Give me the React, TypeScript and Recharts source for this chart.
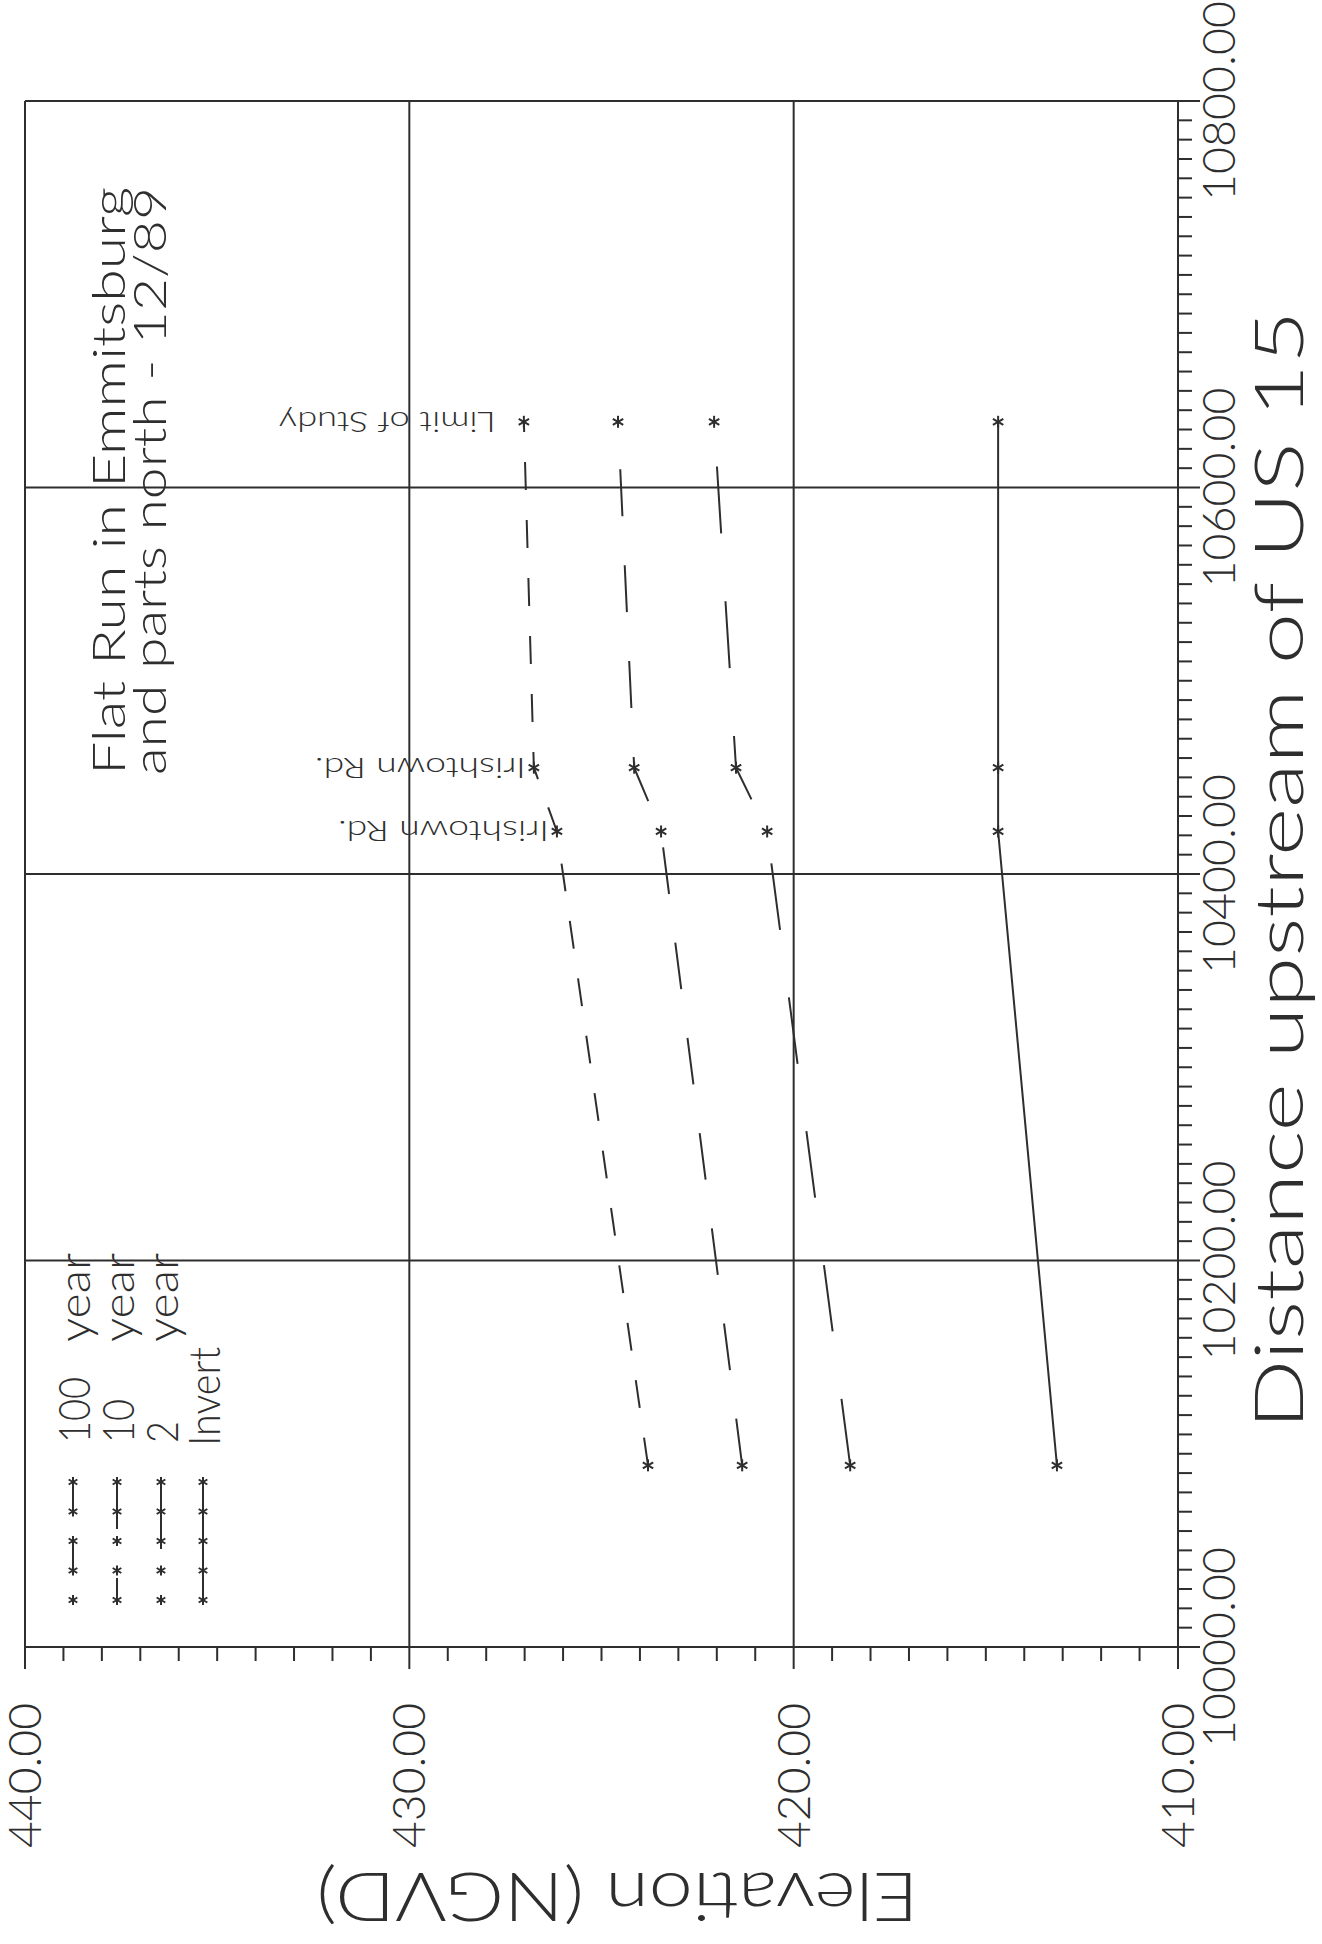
import {
  LineChart,
  Line,
  XAxis,
  YAxis,
  ReferenceLine,
  LabelList,
  Label,
} from "recharts";

// distance upstream of US 15 (ft)
const distances = [10094, 10422, 10455, 10634];

// water surface elevations (ft NGVD)
const year100 = [423.79, 426.16, 426.76, 427.02];
const year10 = [421.34, 423.45, 424.15, 424.57];
const year2 = [418.53, 420.69, 421.5, 422.07];
const invert = [413.15, 414.68, 414.68, 414.68];

const pointLabels = ["", "Irishtown Rd.", "Irishtown Rd.", "Limit of Study"];

const distanceMajor = [10000, 10200, 10400, 10600, 10800];
const elevationMajor = [410, 420, 430, 440];
const distanceMinor = Array.from({ length: 81 }, (_, i) => 10000 + i * 10);
const elevationMinor = Array.from({ length: 31 }, (_, i) => 410 + i);

const legendNums = ["100", "10", "2", ""];
const legendUnits = ["year", "year", "year", ""];

const rows = distances.map((d, i) => ({
  d,
  y100: year100[i],
  y10: year10[i],
  y2: year2[i],
  inv: invert[i],
  label: pointLabels[i],
}));

const INK = "#2e2e2e";
const FONT = "Lato, Roboto, 'DejaVu Sans', sans-serif";

const series = [
  { key: "y100", dash: "28 30" },
  { key: "y10", dash: "47 49" },
  { key: "y2", dash: "67 68" },
  { key: "inv", dash: undefined },
];

function Star({ cx, cy, r = 6 }: any) {
  const a = r * 0.866;
  const b = r * 0.5;
  return (
    <g stroke={INK} strokeWidth={2}>
      <line x1={cx - r} y1={cy} x2={cx + r} y2={cy} />
      <line x1={cx - b} y1={cy - a} x2={cx + b} y2={cy + a} />
      <line x1={cx - b} y1={cy + a} x2={cx + b} y2={cy - a} />
    </g>
  );
}

const renderDot = (props: any) => (
  <Star key={`dot-${props.dataKey}-${props.index}`} cx={props.cx} cy={props.cy} />
);

function DistanceTick({ x, y, payload }: any) {
  const v = payload.value;
  const major = distanceMajor.includes(v);
  return (
    <g>
      <line x1={x} x2={x} y1={y} y2={y + (major ? 22 : 14)} stroke={INK} strokeWidth={2} />
      {major && (
        <text
          x={x}
          y={y + 57}
          textAnchor="middle"
          fontSize={45}
          fontWeight={300}
          fontFamily={FONT}
          fill={INK}
          textLength={200}
          lengthAdjust="spacingAndGlyphs"
        >
          {v.toFixed(2)}
        </text>
      )}
    </g>
  );
}

function ElevationTick({ x, y, payload }: any) {
  const v = payload.value;
  const major = elevationMajor.includes(v);
  return (
    <g>
      <line x1={x} x2={x - (major ? 22 : 14)} y1={y} y2={y} stroke={INK} strokeWidth={2} />
      {major && (
        <text
          x={x - 56}
          y={y + 16}
          textAnchor="end"
          fontSize={45}
          fontWeight={300}
          fontFamily={FONT}
          fill={INK}
          textLength={145}
          lengthAdjust="spacingAndGlyphs"
        >
          {v.toFixed(2)}
        </text>
      )}
    </g>
  );
}

function PointLabel({ x, y, value }: any) {
  if (!value) return null;
  const gap = value.startsWith("Limit") ? 28 : 8;
  const tx = x + 10;
  const ty = y - gap;
  return (
    <text
      x={tx}
      y={ty}
      transform={`rotate(-90 ${tx} ${ty})`}
      fontSize={27}
      fontWeight={300}
      fontFamily={FONT}
      fill={INK}
      textLength={value.startsWith("Limit") ? 217 : 211}
      lengthAdjust="spacingAndGlyphs"
    >
      {value}
    </text>
  );
}

function DistanceTitle({ viewBox }: any) {
  const vb = viewBox || { x: 297, y: 1178, width: 1546, height: 100 };
  const cx = vb.x + vb.width / 2 + 4;
  const cy = vb.y + 125;
  return (
    <text
      x={cx}
      y={cy}
      textAnchor="middle"
      fontSize={67}
      fontWeight={300}
      fontFamily={FONT}
      fill={INK}
      textLength={1119}
      lengthAdjust="spacingAndGlyphs"
    >
      Distance upstream of US 15
    </text>
  );
}

function ElevationTitle({ viewBox }: any) {
  const vb = viewBox || { x: 97, y: 25, width: 200, height: 1153 };
  const tx = vb.x + vb.width - 226;
  const ty = vb.y + vb.height / 2 + 16;
  return (
    <text
      x={tx}
      y={ty}
      transform={`rotate(-90 ${tx} ${ty})`}
      textAnchor="middle"
      fontSize={67}
      fontWeight={300}
      fontFamily={FONT}
      fill={INK}
      textLength={602}
      lengthAdjust="spacingAndGlyphs"
    >
      Elevation (NGVD)
    </text>
  );
}

function Overlay() {
  const rowsY = [73, 117, 161, 203];
  const starX = [462, 432.5, 403, 373.5, 344];
  return (
    <svg
      width={1944}
      height={1322}
      style={{ position: "absolute", left: 0, top: 0, pointerEvents: "none" }}
    >
      <g fontFamily={FONT} fontWeight={300} fill={INK}>
        <text x={1169} y={125} fontSize={46} textLength={588} lengthAdjust="spacingAndGlyphs">
          Flat Run in Emmitsburg
        </text>
        <text x={1169} y={166} fontSize={46} textLength={588} lengthAdjust="spacingAndGlyphs">
          and parts north - 12/89
        </text>
      </g>
      {series.map((s, i) => (
        <g key={s.key}>
          <line
            x1={462}
            x2={344}
            y1={rowsY[i]}
            y2={rowsY[i]}
            stroke={INK}
            strokeWidth={2}
            strokeDasharray={s.dash}
          />
          {starX.map((sx) => (
            <Star key={sx} cx={sx} cy={rowsY[i]} r={5} />
          ))}
          {i < 3 ? (
            <g fontFamily={FONT} fontWeight={300} fill={INK} fontSize={44}>
              <text x={501} y={rowsY[i] + 17} textLength={legendNums[i].length * 22} lengthAdjust="spacingAndGlyphs">
                {legendNums[i]}
              </text>
              <text x={602} y={rowsY[i] + 17} textLength={89} lengthAdjust="spacingAndGlyphs">
                {legendUnits[i]}
              </text>
            </g>
          ) : (
            <text
              x={498}
              y={rowsY[i] + 17}
              fontFamily={FONT}
              fontWeight={300}
              fill={INK}
              fontSize={44}
              textLength={99}
              lengthAdjust="spacingAndGlyphs"
            >
              Invert
            </text>
          )}
        </g>
      ))}
    </svg>
  );
}

export default function App() {
  return (
    <div
      style={{
        position: "absolute",
        left: 0,
        top: 0,
        width: 1322,
        height: 1944,
        overflow: "hidden",
        background: "#fff",
      }}
    >
      <div
        style={{
          position: "absolute",
          left: 0,
          top: 0,
          width: 1944,
          height: 1322,
          transformOrigin: "0 0",
          transform: "translate(0px, 1944px) rotate(-90deg)",
        }}
      >
        <LineChart
          width={1944}
          height={1322}
          data={rows}
          margin={{ top: 25, right: 101, bottom: 44, left: 97 }}
        >
          <XAxis
            dataKey="d"
            type="number"
            domain={[10000, 10800]}
            ticks={distanceMinor}
            interval={0}
            height={100}
            tickSize={0}
            tickMargin={0}
            tickLine={false}
            axisLine={{ stroke: INK, strokeWidth: 2 }}
            tick={<DistanceTick />}
          >
            <Label content={<DistanceTitle />} />
          </XAxis>
          <YAxis
            type="number"
            domain={[410, 440]}
            ticks={elevationMinor}
            interval={0}
            width={200}
            tickSize={0}
            tickMargin={0}
            tickLine={false}
            axisLine={{ stroke: INK, strokeWidth: 2 }}
            tick={<ElevationTick />}
          >
            <Label content={<ElevationTitle />} />
          </YAxis>

          {distanceMajor.slice(1).map((d) => (
            <ReferenceLine key={`gx${d}`} x={d} stroke={INK} strokeWidth={2} />
          ))}
          {elevationMajor.slice(1).map((e) => (
            <ReferenceLine key={`gy${e}`} y={e} stroke={INK} strokeWidth={2} />
          ))}

          {series.map((s) => (
            <Line
              key={s.key}
              dataKey={s.key}
              type="linear"
              stroke={INK}
              strokeWidth={2}
              strokeDasharray={s.dash}
              dot={renderDot}
              activeDot={false}
              isAnimationActive={false}
            >
              {s.key === "y100" && (
                <LabelList dataKey="label" content={<PointLabel />} />
              )}
            </Line>
          ))}
        </LineChart>
        <Overlay />
      </div>
    </div>
  );
}
